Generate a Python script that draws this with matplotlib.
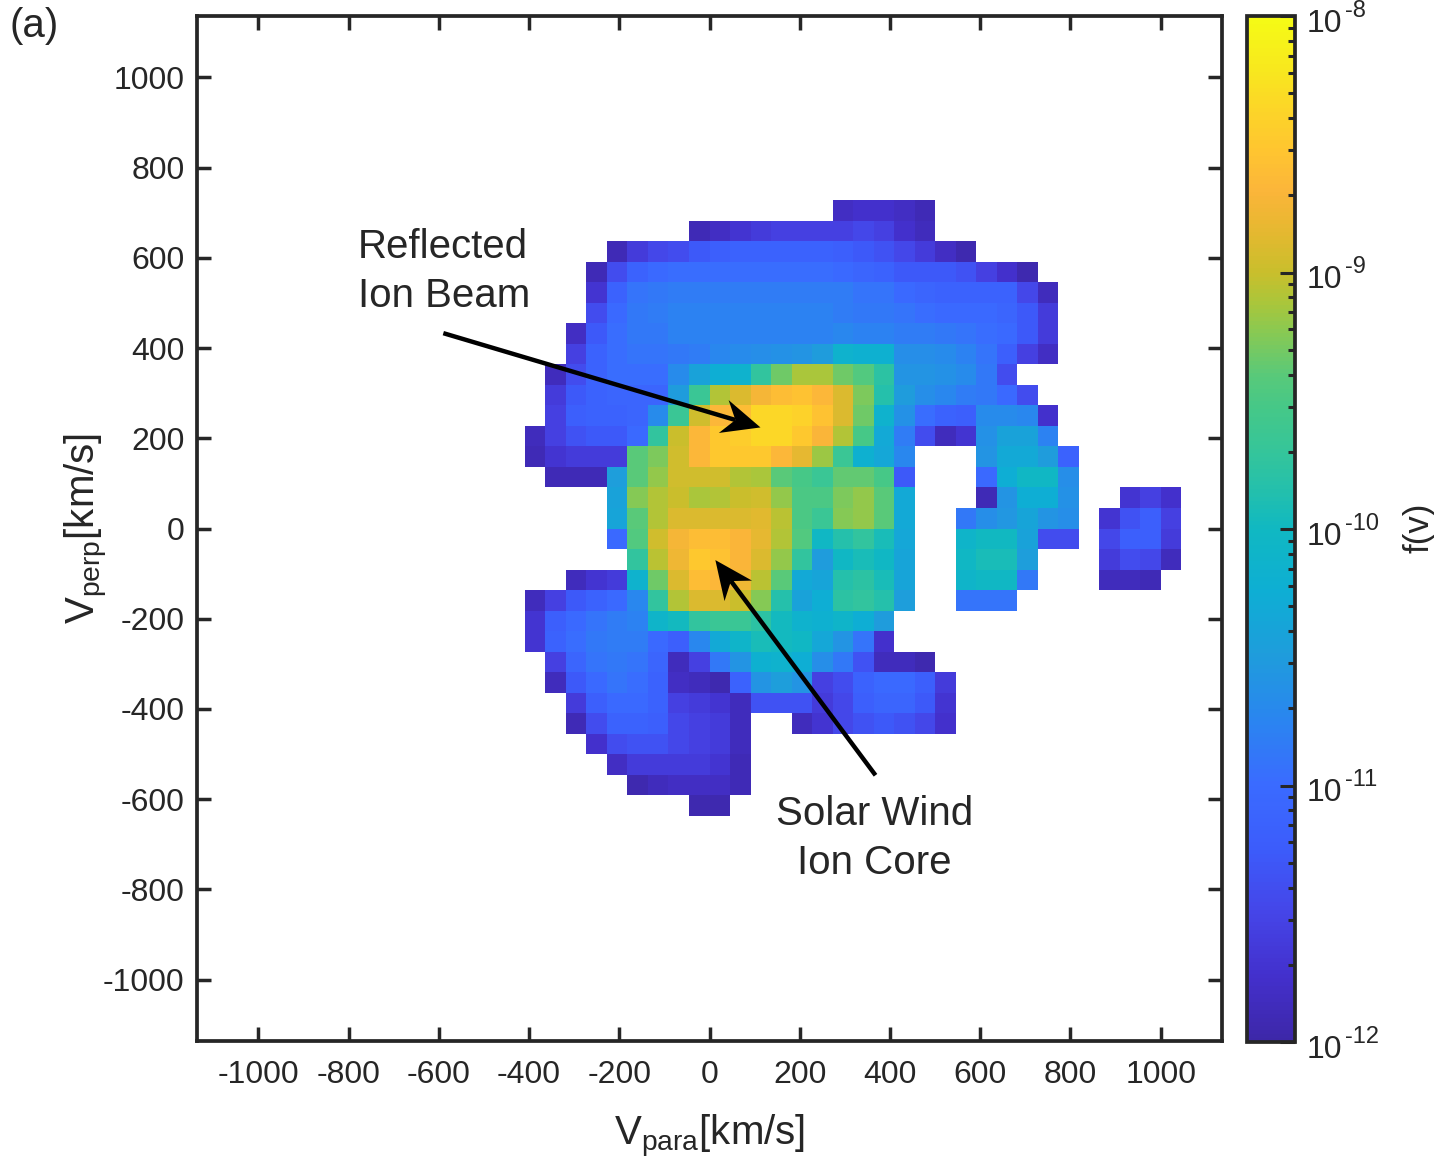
import numpy as np
import matplotlib
matplotlib.use('Agg')
from matplotlib import pyplot as plt
from matplotlib.colors import LinearSegmentedColormap, LogNorm
from matplotlib.patches import Polygon
from matplotlib.ticker import LogLocator, NullFormatter

plt.rcParams['font.family'] = ['Liberation Sans', 'DejaVu Sans']
plt.rcParams['mathtext.fontset'] = 'custom'
plt.rcParams['mathtext.rm'] = 'Liberation Sans'
plt.rcParams['mathtext.default'] = 'rm'
plt.rcParams['axes.unicode_minus'] = False

# bins of the distribution, 45.45 km/s wide, zero is a bin edge
bin_width = 1000 / 22
first_col = -9
n_cols = 32
top_row_edge = 16
N = None

# log10 f(v), one list per row from the top, N = no counts
row_start = [15, 8, 4, 3, 3, 3, 2, 2, 1, 1, 1, 0, 0, 1, 4, 4, 4, 5, 2, 0, 0, 0, 1, 1, 2, 2, 3, 4, 5, 8]
row_values = [
    [-11.8, -11.75, -11.75, -11.8, -11.9],
    [-11.9, -11.8, -11.7, -11.62, -11.55, -11.55, -11.55, -11.55, -11.48, -11.55, -11.75, -11.85],
    [-11.9, -11.62, -11.48, -11.42, -11.28, -11.2, -11.15, -11.15, -11.15, -11.15, -11.15, -11.2, -11.28, -11.35, -11.48, -11.62, -11.8, -11.95],
    [-11.9, -11.42, -11.15, -11.03, -10.97, -10.97, -10.97, -10.97, -10.97, -10.97, -10.97, -10.97, -11.03, -11.1, -11.15, -11.28, -11.28, -11.28, -11.35, -11.55, -11.75, -11.95],
    [-11.7, -11.15, -10.92, -10.87, -10.83, -10.83, -10.83, -10.83, -10.83, -10.83, -10.83, -10.83, -10.83, -10.92, -10.92, -11.03, -11.1, -11.15, -11.15, -11.15, -11.15, -11.48, -11.85],
    [-11.42, -11.03, -10.87, -10.83, -10.77, -10.77, -10.77, -10.77, -10.77, -10.77, -10.77, -10.77, -10.83, -10.87, -10.87, -10.92, -10.97, -11.03, -11.03, -11.03, -11.1, -11.28, -11.62],
    [-11.8, -11.28, -10.97, -10.87, -10.87, -10.77, -10.77, -10.77, -10.77, -10.77, -10.77, -10.77, -10.77, -10.72, -10.77, -10.77, -10.83, -10.83, -10.87, -10.92, -10.97, -11.03, -11.28, -11.62],
    [-11.55, -11.15, -10.97, -10.92, -10.92, -10.87, -10.83, -10.72, -10.68, -10.65, -10.62, -10.58, -10.5, -10.15, -10.2, -10.2, -10.65, -10.65, -10.68, -10.77, -10.92, -11.2, -11.55, -11.8],
    [-11.85, -11.42, -11.15, -10.97, -10.97, -10.97, -10.68, -10.42, -10.25, -10.15, -9.73, -9.32, -9.12, -9.12, -9.32, -9.45, -9.78, -10.58, -10.58, -10.62, -10.68, -10.87, -11.42],
    [-11.62, -11.28, -11.15, -11.1, -11.1, -11.1, -10.5, -9.65, -9.08, -8.9, -8.73, -8.6, -8.55, -8.67, -8.9, -9.27, -9.84, -10.5, -10.65, -10.72, -10.83, -10.87, -11.03, -11.42],
    [-11.55, -11.2, -11.15, -11.15, -11.1, -10.68, -9.65, -8.96, -8.67, -8.6, -8.35, -8.35, -8.4, -8.55, -8.9, -9.32, -10.15, -10.62, -10.97, -11.15, -11.2, -10.68, -10.68, -10.72, -11.75],
    [-11.85, -11.55, -11.35, -11.28, -11.28, -11.03, -9.73, -9.0, -8.67, -8.5, -8.45, -8.35, -8.35, -8.5, -8.7, -9.08, -9.53, -10.32, -10.83, -11.42, -11.85, -11.7, -10.62, -10.42, -10.42, -10.77],
    [-11.9, -11.7, -11.62, -11.62, -11.62, -9.4, -9.27, -8.96, -8.67, -8.5, -8.5, -8.5, -8.67, -8.83, -9.16, -9.65, -10.2, -10.35, -10.72, N, N, N, -10.58, -10.32, -10.32, -10.5, -11.15],
    [-11.9, -11.9, -11.9, -10.47, -9.4, -9.2, -8.96, -8.96, -8.96, -9.08, -9.12, -9.4, -9.53, -9.65, -9.36, -9.36, -9.53, -11.28, N, N, N, -11.03, -10.25, -10.03, -10.03, -10.65],
    [-10.42, -9.24, -9.08, -9.0, -9.12, -9.08, -9.0, -8.96, -9.2, -9.5, -9.5, -9.27, -9.2, -9.4, -10.32, N, N, N, -11.9, -10.58, -10.25, -10.25, -10.62, N, N, -11.7, -11.55, -11.75],
    [-10.38, -9.4, -9.08, -8.9, -8.9, -8.9, -8.9, -8.87, -9.05, -9.5, -9.65, -9.24, -9.2, -9.4, -10.32, N, N, -10.87, -10.65, -10.55, -10.38, -10.58, -10.65, N, -11.7, -11.35, -11.2, -11.55],
    [-11.03, -9.45, -8.96, -8.73, -8.6, -8.6, -8.7, -8.83, -9.08, -9.45, -10.03, -9.84, -9.73, -9.93, -10.35, N, N, -10.1, -10.0, -10.0, -10.42, -11.42, -11.42, N, -11.48, -11.2, -11.2, -11.62],
    [-9.73, -9.05, -8.78, -8.5, -8.55, -8.7, -8.9, -9.2, -9.73, -10.5, -10.03, -9.93, -10.03, -10.38, N, N, -10.03, -9.93, -9.93, -10.47, N, N, N, -11.62, -11.42, -11.48, -11.85],
    [-11.85, -11.7, -11.62, -10.15, -9.32, -8.9, -8.6, -8.67, -8.78, -9.05, -9.4, -10.32, -10.38, -9.84, -9.78, -9.93, -10.38, N, N, -10.1, -10.03, -10.03, -10.87, N, N, N, -11.85, -11.85, -11.9],
    [-11.85, -11.55, -11.28, -11.15, -11.03, -10.72, -9.73, -9.08, -8.9, -8.9, -9.0, -9.24, -9.84, -10.42, -10.25, -9.78, -9.73, -9.84, -10.47, N, N, -10.92, -10.92, -10.92],
    [-11.7, -11.2, -11.03, -10.92, -10.83, -10.77, -10.1, -9.97, -9.73, -9.65, -9.65, -9.78, -9.97, -10.15, -10.2, -10.1, -10.25, -10.5],
    [-11.7, -11.15, -10.97, -10.87, -10.83, -10.83, -11.03, -11.2, -10.72, -10.32, -10.1, -9.93, -9.97, -10.03, -10.35, -10.58, -10.92, -11.75],
    [-11.55, -11.1, -10.92, -10.87, -10.92, -11.1, -11.85, -11.55, -10.87, -10.58, -10.2, -10.15, -10.25, -10.65, -10.87, -11.35, -11.85, -11.85, -11.95],
    [-11.85, -11.28, -11.03, -10.92, -10.97, -11.15, -11.8, -11.85, -11.95, -11.15, -10.58, -10.47, -10.58, -11.55, -11.42, -11.15, -11.03, -11.03, -11.2, -11.62],
    [-11.62, -11.2, -11.03, -11.03, -11.15, -11.55, -11.62, -11.7, -11.85, -11.35, -11.35, -11.35, -11.62, -11.48, -11.2, -11.1, -11.1, -11.28, -11.7],
    [-11.9, -11.42, -11.15, -11.15, -11.2, -11.48, -11.55, -11.62, -11.85, N, N, -11.85, -11.7, -11.48, -11.35, -11.28, -11.35, -11.48, -11.75],
    [-11.75, -11.42, -11.35, -11.35, -11.48, -11.55, -11.62, -11.85],
    [-11.8, -11.62, -11.62, -11.62, -11.62, -11.7, -11.9],
    [-11.95, -11.85, -11.8, -11.8, -11.8, -11.9],
    [-11.95, -11.95],
]

x_ticks = np.arange(-1000, 1001, 200)
y_ticks = np.arange(-1000, 1001, 200)
cbar_exponents = [-12, -11, -10, -9, -8]

cmap_stops = [(0, '#3d27a8'), (.0625, '#4330cc'), (.125, '#4545e8'), (.1875, '#3c5cfb'),
              (.25, '#3a6bff'), (.3125, '#2a85f0'), (.375, '#1f9cdc'), (.4375, '#0eaed4'),
              (.5, '#10b8c2'), (.534, '#22bfae'), (.576, '#35c59a'), (.618, '#45c888'),
              (.65, '#58c97a'), (.696, '#8cc950'), (.72, '#a8c63c'), (.75, '#c8bf2c'),
              (.79, '#e5b830'), (.83, '#fbb53a'), (.87, '#ffc530'), (.91, '#fcd528'),
              (.95, '#f8e81e'), (1, '#f5fb15')]
parula = LinearSegmentedColormap.from_list('parula_like', cmap_stops, N=256)
text_color = '#262626'

# fill the grid
n_rows = len(row_values)
grid = np.full((n_rows, n_cols), np.nan)
for r, vals in enumerate(row_values):
    for k, v in enumerate(vals):
        if v is not None:
            grid[r, row_start[r] + k] = 10.0 ** v
x_edges = (first_col + np.arange(n_cols + 1)) * bin_width
y_edges = (top_row_edge - np.arange(n_rows + 1)) * bin_width

W, H = 1434, 1160
fig = plt.figure(figsize=(W / 100, H / 100), dpi=100)
ax = fig.add_axes([197 / W, 1 - 1041 / H, (1222 - 197) / W, (1041 - 16) / H])
norm = LogNorm(vmin=1e-12, vmax=1e-8)
mesh = ax.pcolormesh(x_edges, y_edges, grid, cmap=parula, norm=norm, shading='flat')

ax.set_xlim(-1136, 1136)
ax.set_ylim(-1136, 1136)
ax.set_xticks(x_ticks)
ax.set_yticks(y_ticks)
ax.tick_params(direction='in', length=10, width=2.5, top=True, right=True,
               labelsize=23, colors=text_color, pad=9)
ax.tick_params(axis='x', pad=14)
for s in ax.spines.values():
    s.set_linewidth(2.7)
    s.set_color(text_color)
ax.set_xlabel(r'$\mathrm{V_{para}[km/s]}$', fontsize=29, color=text_color, labelpad=16)
ax.set_ylabel(r'$\mathrm{V_{perp}[km/s]}$', fontsize=29, color=text_color, labelpad=-5)


def stealth_arrow(tail, tip, lw=3.2, head_len=85, head_w=38, notch=58):
    # straight shaft and a concave head, sizes in data units
    tail = np.array(tail, float)
    tip = np.array(tip, float)
    d = (tip - tail) / np.hypot(*(tip - tail))
    n = np.array([-d[1], d[0]])
    ax.plot([tail[0], (tip - d * notch)[0]], [tail[1], (tip - d * notch)[1]],
            color='k', lw=lw, solid_capstyle='butt', zorder=5)
    head = [tip, tip - d * head_len + n * head_w, tip - d * notch, tip - d * head_len - n * head_w]
    ax.add_patch(Polygon(head, closed=True, fc='k', ec='none', zorder=6))


stealth_arrow((-590, 433), (113, 224))
stealth_arrow((368, -547), (13, -70))

ax.text(-780, 569, 'Reflected\nIon Beam', fontsize=29, color=text_color, ha='left', va='center',
        linespacing=1.38)
ax.text(365, -687, 'Solar Wind\nIon Core', fontsize=29, color=text_color, ha='center', va='center',
        linespacing=1.38)
fig.text(9 / W, 1 - 26 / H, '(a)', fontsize=29, color=text_color, ha='left', va='center')

# colorbar
cax = fig.add_axes([1247 / W, 1 - 1042 / H, (1295 - 1247) / W, (1042 - 16) / H])
cb = fig.colorbar(mesh, cax=cax)
cb.outline.set_linewidth(2.7)
cb.outline.set_edgecolor(text_color)
cax.yaxis.set_ticks([10.0 ** e for e in cbar_exponents])
cax.yaxis.set_major_formatter(NullFormatter())
cax.yaxis.set_minor_locator(LogLocator(base=10, subs=np.arange(2, 10), numticks=10))
cax.yaxis.set_minor_formatter(NullFormatter())
cax.tick_params(which='major', direction='in', length=11, width=2.2, right=True, color=text_color)
cax.tick_params(which='minor', direction='in', length=5, width=2.2, right=True, color=text_color)
# matlab style labels, the exponent is big and has a plain hyphen
for e in cbar_exponents:
    cax.annotate('10', (1, 10.0 ** e), xycoords=('axes fraction', 'data'), xytext=(8.6, -11.5),
                 textcoords='offset points', fontsize=23, color=text_color, va='baseline',
                 annotation_clip=False)
    cax.annotate('%d' % e, (1, 10.0 ** e), xycoords=('axes fraction', 'data'), xytext=(36, -0.7),
                 textcoords='offset points', fontsize=17, color=text_color, va='baseline',
                 annotation_clip=False)
fig.text(1419 / W, 1 - 528 / H, 'f(v)', fontsize=25, color=text_color, rotation=90,
         ha='center', va='center')

fig.savefig('out.png', dpi=100)
